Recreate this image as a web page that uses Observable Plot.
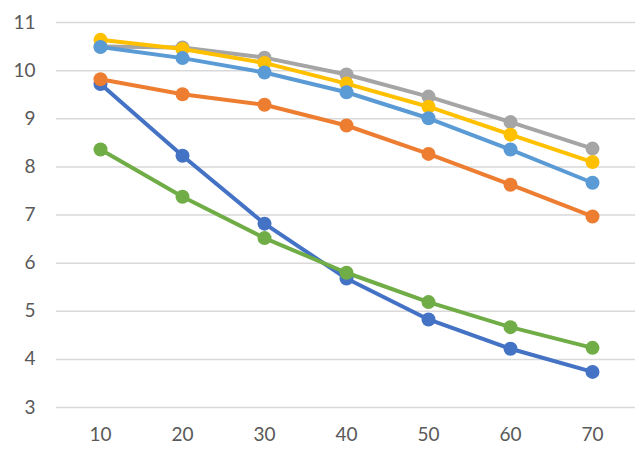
<!DOCTYPE html>
<html>
<head>
<meta charset="utf-8">
<script src="https://cdn.jsdelivr.net/npm/d3@7"></script>
<script src="https://cdn.jsdelivr.net/npm/@observablehq/plot@0.6"></script>
<style>
  html, body { margin: 0; padding: 0; background: #fff; }
  #chart { width: 644px; height: 462px; }
</style>
</head>
<body>
<div id="chart"></div>
<script>
const categories = [10, 20, 30, 40, 50, 60, 70];
const yTicks = [3, 4, 5, 6, 7, 8, 9, 10, 11];

const seriesNames = ["S1", "S2", "S3", "S4", "S5", "S6"];
const seriesColors = ["#4472C4", "#ED7D31", "#A5A5A5", "#FFC000", "#5B9BD5", "#70AD47"];

const s1 = [9.72, 8.23, 6.82, 5.68, 4.83, 4.22, 3.74];
const s2 = [9.82, 9.51, 9.29, 8.86, 8.27, 7.63, 6.97];
const s3 = [10.50, 10.48, 10.27, 9.92, 9.46, 8.93, 8.38];
const s4 = [10.64, 10.45, 10.16, 9.73, 9.25, 8.67, 8.10];
const s5 = [10.49, 10.26, 9.96, 9.55, 9.01, 8.36, 7.67];
const s6 = [8.36, 7.38, 6.52, 5.80, 5.19, 4.67, 4.24];

const seriesValues = [s1, s2, s3, s4, s5, s6];

const data = seriesValues.flatMap((vals, i) =>
  vals.map((v, j) => ({ series: seriesNames[i], x: categories[j], y: v }))
);

const chart = Plot.plot({
  width: 644,
  height: 462,
  marginLeft: 56,
  marginRight: 9,
  marginTop: 22,
  marginBottom: 55,
  style: { fontFamily: "Lato, 'Open Sans', sans-serif", fontSize: "19px", color: "#595959", background: "#fff" },
  x: { type: "point", domain: categories, padding: 0.5, label: null, tickSize: 0, tickPadding: 20 },
  y: { domain: [3, 11], ticks: yTicks, label: null, tickSize: 0, tickPadding: 21 },
  color: { domain: seriesNames, range: seriesColors },
  marks: [
    Plot.gridY(yTicks, { stroke: "#D9D9D9", strokeOpacity: 1, strokeWidth: 1.5 }),
    ...seriesNames.flatMap(name => [
      Plot.line(data.filter(d => d.series === name), { x: "x", y: "y", stroke: "series", strokeWidth: 4, strokeLinejoin: "round" }),
      Plot.dot(data.filter(d => d.series === name), { x: "x", y: "y", fill: "series", r: 7, stroke: null })
    ])
  ]
});

document.getElementById("chart").appendChild(chart);
</script>
</body>
</html>
